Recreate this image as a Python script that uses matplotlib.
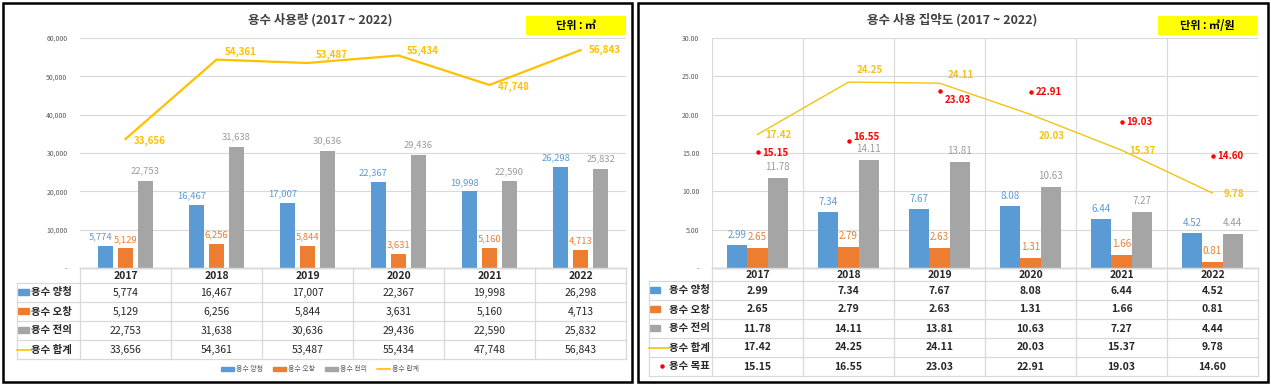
import matplotlib
matplotlib.use('Agg')
import matplotlib.pyplot as plt
from matplotlib.patches import Rectangle, Patch
from matplotlib.lines import Line2D

plt.rcParams['font.family'] = ['Noto Sans CJK KR', 'DejaVu Sans']

# ---------------- data ----------------
years = ['2017', '2018', '2019', '2020', '2021', '2022']
series_names = ['용수 양청', '용수 오창', '용수 전의', '용수 합계', '용수 목표']

yangcheong_vol = [5774, 16467, 17007, 22367, 19998, 26298]
ochang_vol = [5129, 6256, 5844, 3631, 5160, 4713]
jeonui_vol = [22753, 31638, 30636, 29436, 22590, 25832]
total_vol = [33656, 54361, 53487, 55434, 47748, 56843]

yangcheong_int = [2.99, 7.34, 7.67, 8.08, 6.44, 4.52]
ochang_int = [2.65, 2.79, 2.63, 1.31, 1.66, 0.81]
jeonui_int = [11.78, 14.11, 13.81, 10.63, 7.27, 4.44]
total_int = [17.42, 24.25, 24.11, 20.03, 15.37, 9.78]
target_int = [15.15, 16.55, 23.03, 22.91, 19.03, 14.60]

left_title = '용수 사용량 (2017 ~ 2022)'
right_title = '용수 사용 집약도 (2017 ~ 2022)'
left_unit = '단위 : ㎥'
right_unit = '단위 : ㎥/원'
vol_ticks = [0, 10000, 20000, 30000, 40000, 50000, 60000]
int_ticks = [0, 5, 10, 15, 20, 25, 30]

# ---------------- style ----------------
BLUE = '#5B9BD5'
ORANGE = '#ED7D31'
GRAY = '#A5A5A5'
GOLD = '#FFC000'
GOLD2 = '#F2C314'
RED = '#FF0000'
GRID = '#D9D9D9'
TXT = '#404040'

W, H = 1271, 386
fig = plt.figure(figsize=(W / 100, H / 100), dpi=100)
PT = 0.72  # points per pixel


def ax_px(x0, y0, x1, y1):
    return fig.add_axes([x0 / W, 1 - y1 / H, (x1 - x0) / W, (y1 - y0) / H])


def fig_xy(px, py):
    return px / W, 1 - py / H


def style_plot(ax, ticks, fmt, vgrid):
    ax.set_xlim(-0.5, 5.5)
    ax.set_ylim(ticks[0], ticks[-1])
    ax.set_yticks(ticks)
    ax.set_yticklabels(['-' if t == 0 else fmt(t) for t in ticks])
    ax.tick_params(axis='y', length=0, labelsize=5, labelcolor='#595959', pad=9)
    ax.set_xticks([])
    for s in ['top', 'right', 'left']:
        ax.spines[s].set_visible(False)
    ax.spines['bottom'].set_color('#BFBFBF')
    ax.spines['bottom'].set_linewidth(1.0)
    ax.set_axisbelow(True)
    for t in ticks[1:]:
        ax.axhline(t, color=GRID, lw=0.8, zorder=0)
    if vgrid:
        for i in range(7):
            ax.axvline(i - 0.5, color=GRID, lw=0.8, zorder=0)


def draw_table(tax, rows, row_fmt, label_col_px, plot_left_px, bounds, icons, bold_vals):
    # data x: category units; y: pixel units
    def px2d(px):
        return -0.5 + (px - plot_left_px) / 91.0

    xl = px2d(label_col_px)
    tax.set_xlim(xl, 5.5)
    tax.set_ylim(bounds[-1], bounds[0])
    tax.axis('off')
    for j, yb in enumerate(bounds):
        x_start = -0.5 if j == 0 else xl
        tax.plot([x_start, 5.5], [yb, yb], color=GRID, lw=0.9, clip_on=False)
    for i in range(7):
        tax.plot([i - 0.5, i - 0.5], [bounds[0], bounds[-1]], color=GRID, lw=0.9, clip_on=False)
    tax.plot([xl, xl], [bounds[1], bounds[-1]], color=GRID, lw=0.9, clip_on=False)
    for i, y in enumerate(years):
        tax.text(i, (bounds[0] + bounds[1]) / 2 + 0.5, y, ha='center', va='center',
                 fontsize=7.5, fontweight='bold', color='#262626')
    for r, (name, vals) in enumerate(rows):
        yc = (bounds[r + 1] + bounds[r + 2]) / 2
        for i, v in enumerate(vals):
            tax.text(i, yc, row_fmt(v), ha='center', va='center', fontsize=7.5,
                     fontweight='bold' if bold_vals else 'normal', color='#262626')
        kind, col, ix0, ix1, tx = icons[r]
        if kind == 'bar':
            tax.add_patch(Rectangle((px2d(ix0), yc - 3.5), px2d(ix1) - px2d(ix0), 6,
                                    color=col, clip_on=False))
        elif kind == 'line':
            tax.plot([px2d(ix0), px2d(ix1)], [yc, yc], color=col, lw=1.2, clip_on=False)
        else:
            tax.plot([px2d((ix0 + ix1) / 2)], [yc - 1], marker='o', ms=2.2, color=col,
                     clip_on=False)
        tax.text(px2d(tx), yc, name, ha='left', va='center', fontsize=7.5,
                 fontweight='bold', color='#262626')


# ================= LEFT PANEL =================
ax1 = ax_px(80, 38, 626, 268)
style_plot(ax1, vol_ticks, lambda t: f'{t:,.0f}', vgrid=False)
x = list(range(len(years)))
bw = 0.165
off = 0.22
ax1.bar([i - off for i in x], yangcheong_vol, bw, color=BLUE, zorder=2)
ax1.bar(x, ochang_vol, bw, color=ORANGE, zorder=2)
ax1.bar([i + off for i in x], jeonui_vol, bw, color=GRAY, zorder=2)
ax1.plot(x, total_vol, color=GOLD, lw=1.6, zorder=3)

for i in x:
    ax1.annotate(f'{yangcheong_vol[i]:,}', (i - off, yangcheong_vol[i]), xytext=(-5 * PT, 9 * PT),
                 textcoords='offset points', ha='center', va='center', fontsize=6.8, color=BLUE)
    ax1.annotate(f'{ochang_vol[i]:,}', (i, ochang_vol[i]), xytext=(0, 9 * PT),
                 textcoords='offset points', ha='center', va='center', fontsize=6.8, color=ORANGE)
    ax1.annotate(f'{jeonui_vol[i]:,}', (i + off, jeonui_vol[i]), xytext=(0, 10 * PT),
                 textcoords='offset points', ha='center', va='center', fontsize=6.8, color='#9A9A9A')

l_dy = [-2, 8, 8, 5, -2, 0]
for i in x:
    ax1.annotate(f'{total_vol[i]:,}', (i, total_vol[i]), xytext=(24 * PT, l_dy[i] * PT),
                 textcoords='offset points', ha='center', va='center', fontsize=7,
                 color=GOLD, fontweight='bold')

tax1 = ax_px(17, 268, 626, 359)
draw_table(tax1,
           [(series_names[0], yangcheong_vol), (series_names[1], ochang_vol),
            (series_names[2], jeonui_vol), (series_names[3], total_vol)],
           lambda v: f'{v:,}', 17, 80,
           [268, 283, 302, 321, 340, 359],
           [('bar', BLUE, 18, 29, 31), ('bar', ORANGE, 18, 29, 31),
            ('bar', GRAY, 18, 29, 31), ('line', GOLD, 17, 31, 31)],
           bold_vals=False)

handles = [Patch(color=BLUE), Patch(color=ORANGE), Patch(color=GRAY),
           Line2D([0], [0], color=GOLD, lw=1.2)]
fig.legend(handles, series_names[:4], loc='center', bbox_to_anchor=fig_xy(320, 369),
           ncol=4, fontsize=5, frameon=False, handlelength=1.8, handleheight=0.5,
           columnspacing=1.5, handletextpad=0.3, labelcolor='#595959')

# ================= RIGHT PANEL =================
ax2 = ax_px(712, 38, 1258, 268)
style_plot(ax2, int_ticks, lambda t: f'{t:.2f}', vgrid=True)
bw2 = 0.22
ax2.bar([i - bw2 for i in x], yangcheong_int, bw2, color=BLUE, zorder=2)
ax2.bar(x, ochang_int, bw2, color=ORANGE, zorder=2)
ax2.bar([i + bw2 for i in x], jeonui_int, bw2, color=GRAY, zorder=2)
ax2.plot(x, total_int, color=GOLD2, lw=1.0, zorder=3)
ax2.plot(x, target_int, linestyle='none', marker='o', ms=2.2, color=RED, zorder=4)

for i in x:
    ax2.annotate(f'{yangcheong_int[i]:.2f}', (i - bw2, yangcheong_int[i]), xytext=(0, 10 * PT),
                 textcoords='offset points', ha='center', va='center', fontsize=7, color=BLUE)
    ax2.annotate(f'{ochang_int[i]:.2f}', (i, ochang_int[i]), xytext=(0, 11 * PT),
                 textcoords='offset points', ha='center', va='center', fontsize=7, color=ORANGE)
    ax2.annotate(f'{jeonui_int[i]:.2f}', (i + bw2, jeonui_int[i]), xytext=(0, 11 * PT),
                 textcoords='offset points', ha='center', va='center', fontsize=7, color='#9A9A9A')

r_dy = [-1, 12, 8, -22, -1, -1]
for i in x:
    ax2.annotate(f'{total_int[i]:.2f}', (i, total_int[i]), xytext=(21 * PT, r_dy[i] * PT),
                 textcoords='offset points', ha='center', va='center', fontsize=7,
                 color=GOLD2, fontweight='bold')
t_dy = [-1, 4, -9, 0, 0, 0]
for i in x:
    ax2.annotate(f'{target_int[i]:.2f}', (i, target_int[i]), xytext=(5 * PT, t_dy[i] * PT),
                 textcoords='offset points', ha='left', va='center', fontsize=7,
                 color=RED, fontweight='bold')

tax2 = ax_px(649, 268, 1258, 376)
draw_table(tax2,
           [(series_names[0], yangcheong_int), (series_names[1], ochang_int),
            (series_names[2], jeonui_int), (series_names[3], total_int),
            (series_names[4], target_int)],
           lambda v: f'{v:.2f}', 649, 712,
           [268, 281, 300, 319, 338, 357, 376],
           [('bar', BLUE, 650, 660, 669), ('bar', ORANGE, 650, 660, 669),
            ('bar', GRAY, 650, 660, 669), ('line', GOLD2, 649, 669, 669),
            ('dot', RED, 659, 664, 669)],
           bold_vals=True)

# ================= titles, unit boxes, frames =================
for cx, title in [(320, left_title), (952, right_title)]:
    fig.text(*fig_xy(cx, 20), title, ha='center', va='center', fontsize=9,
             fontweight='bold', color=TXT)

for (x0, x1), unit in [((526, 626), left_unit), ((1158, 1257), right_unit)]:
    fx0, fy1 = fig_xy(x0, 16)
    fx1, fy0 = fig_xy(x1, 35)
    fig.patches.append(Rectangle((fx0, fy0), fx1 - fx0, fy1 - fy0, transform=fig.transFigure,
                                 facecolor='#FFFF00', edgecolor='none', zorder=5))
    fig.text((fx0 + fx1) / 2, (fy0 + fy1) / 2, unit, ha='center', va='center',
             fontsize=8, fontweight='bold', color='black', zorder=6)

for x0, x1 in [(3, 632), (638, 1268)]:
    fx0, fy1 = fig_xy(x0, 3)
    fx1, fy0 = fig_xy(x1, 382)
    fig.patches.append(Rectangle((fx0, fy0), fx1 - fx0, fy1 - fy0, transform=fig.transFigure,
                                 facecolor='none', edgecolor='black', lw=1.8, zorder=10))

fig.savefig('out.png', dpi=100)
